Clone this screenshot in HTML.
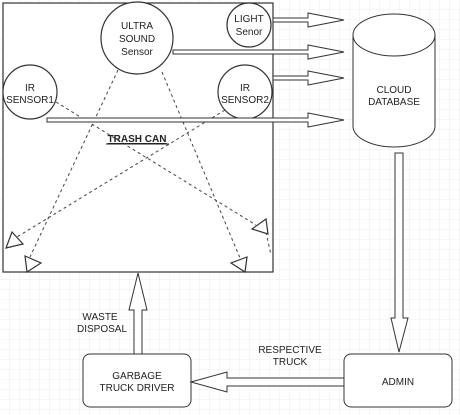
<!DOCTYPE html>
<html><head><meta charset="utf-8"><style>
html,body{margin:0;padding:0;background:#fff}
svg{display:block}
text{font-family:"Liberation Sans",Arial,sans-serif;font-size:10px;fill:#222}
</style></head><body>
<svg width="460" height="415" viewBox="0 0 460 415" xmlns="http://www.w3.org/2000/svg">
<defs>
<pattern id="g" width="10" height="10" patternUnits="userSpaceOnUse">
<path d="M10 0V10M0 10H10" stroke="#eee" stroke-width="1" fill="none"/>
</pattern>
</defs>
<rect width="460" height="415" fill="url(#g)"/>
<g stroke="#333" stroke-width="1.2" fill="#fff">
<rect x="3" y="3" width="270" height="269"/>
</g>
<!-- dashed lines -->
<g stroke="#444" stroke-width="1" stroke-dasharray="3,3" fill="none">
<line x1="118" y1="70" x2="30" y2="257"/>
<line x1="162" y1="72" x2="240" y2="258"/>
<line x1="56" y1="102" x2="256" y2="225"/>
<line x1="225" y1="110" x2="12" y2="240"/>
<line x1="266" y1="232" x2="271" y2="255"/>
</g>
<g stroke="#333" stroke-width="1.2" fill="#fff">
<polygon points="12,232 23,244 6,248"/>
<polygon points="25,256 41,263 27,272"/>
<polygon points="266,219 252,229 268,234"/>
<polygon points="247,257 231,263 245,272"/>
<circle cx="137" cy="38" r="36"/>
<circle cx="249" cy="25" r="22"/>
<circle cx="30" cy="92" r="27"/>
<circle cx="245" cy="92" r="27"/>
</g>
<!-- block arrows to cloud -->
<g stroke="#333" stroke-width="1" fill="#fff">
<path d="M273 18H308V13L344 20L308 27V22H273Z"/>
<path d="M173 50H308V45L344 52L308 59V54H173Z"/>
<path d="M273 76H308V71L344 78L308 85V80H273Z"/>
<path d="M47 118H308V113L344 120L308 127V122H47Z"/>
<!-- cylinder -->
<path d="M353 35V126A41 21 0 0 0 435 126V35"/>
<ellipse cx="394" cy="35" rx="41" ry="21"/>
<!-- down arrow -->
<path d="M395 153H403V318H408L399 352L391 318H395Z"/>
<!-- boxes -->
<rect x="344" y="354" width="108" height="53" rx="7"/>
<rect x="83" y="354" width="108" height="53" rx="7"/>
<!-- left arrow -->
<path d="M344 378H227V372L191 382L227 392V386H344Z"/>
<!-- up arrow -->
<path d="M134 354V310H129L138 273L147 310H142V354Z"/>
</g>
<g text-anchor="middle">
<text x="137" y="29">ULTRA</text>
<text x="137" y="42">SOUND</text>
<text x="137" y="55">Sensor</text>
<text x="249" y="22">LIGHT</text>
<text x="249" y="35">Senor</text>
<text x="30" y="91">IR</text>
<text x="30" y="103">SENSOR1</text>
<text x="245" y="91">IR</text>
<text x="245" y="103">SENSOR2</text>
<text x="137" y="142" font-weight="bold" style="font-weight:bold;text-decoration:underline">TRASH CAN</text>
<text x="394" y="93">CLOUD</text>
<text x="394" y="105">DATABASE</text>
<text x="398" y="385">ADMIN</text>
<text x="137" y="379">GARBAGE</text>
<text x="137" y="391">TRUCK DRIVER</text>
<text x="100" y="320">WASTE</text>
<text x="102" y="332">DISPOSAL</text>
<text x="290" y="353">RESPECTIVE</text>
<text x="290" y="365">TRUCK</text>
</g>
<line x1="106" y1="144" x2="169" y2="144" stroke="#222" stroke-width="1"/>
</svg>
</body></html>
